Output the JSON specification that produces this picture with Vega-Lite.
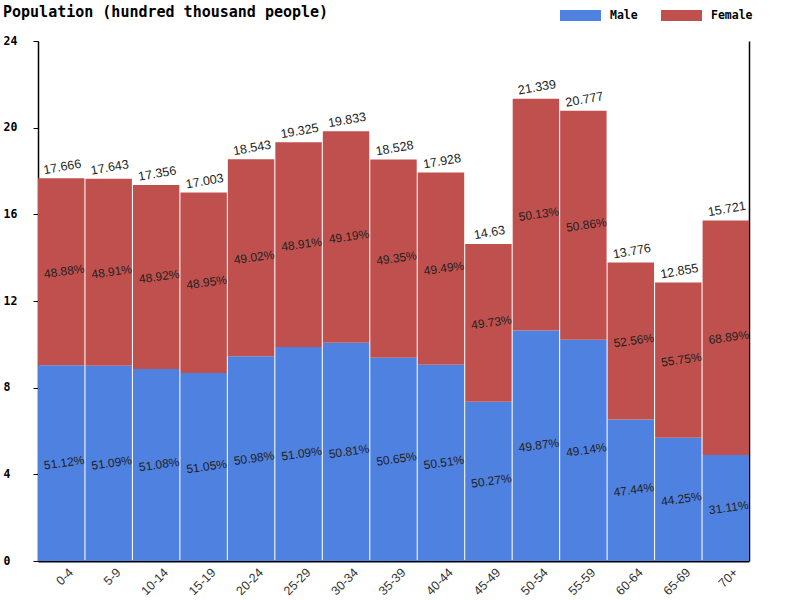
{
  "$schema": "https://vega.github.io/schema/vega-lite/v6.json",
  "autosize": "none",
  "width": 711,
  "height": 520,
  "padding": {"left": 38, "top": 41, "right": 51, "bottom": 39},
  "background": "white",
  "title": {"text": "Population (hundred thousand people)", "anchor": "start", "frame": "group", "font": "DejaVu Sans Mono", "fontWeight": "bold", "fontSize": 15, "color": "black", "dx": -35, "offset": -37, "baseline": "alphabetic"},
  "config": {"view": {"stroke": null}},
  "data": {"values": [
    {"age": "0-4", "sex": "Male", "value": 9.031, "pct": "51.12%", "total": 17.666},
    {"age": "0-4", "sex": "Female", "value": 8.635, "pct": "48.88%", "total": 17.666},
    {"age": "5-9", "sex": "Male", "value": 9.014, "pct": "51.09%", "total": 17.643},
    {"age": "5-9", "sex": "Female", "value": 8.629, "pct": "48.91%", "total": 17.643},
    {"age": "10-14", "sex": "Male", "value": 8.865, "pct": "51.08%", "total": 17.356},
    {"age": "10-14", "sex": "Female", "value": 8.491, "pct": "48.92%", "total": 17.356},
    {"age": "15-19", "sex": "Male", "value": 8.680, "pct": "51.05%", "total": 17.003},
    {"age": "15-19", "sex": "Female", "value": 8.323, "pct": "48.95%", "total": 17.003},
    {"age": "20-24", "sex": "Male", "value": 9.453, "pct": "50.98%", "total": 18.543},
    {"age": "20-24", "sex": "Female", "value": 9.090, "pct": "49.02%", "total": 18.543},
    {"age": "25-29", "sex": "Male", "value": 9.873, "pct": "51.09%", "total": 19.325},
    {"age": "25-29", "sex": "Female", "value": 9.452, "pct": "48.91%", "total": 19.325},
    {"age": "30-34", "sex": "Male", "value": 10.077, "pct": "50.81%", "total": 19.833},
    {"age": "30-34", "sex": "Female", "value": 9.756, "pct": "49.19%", "total": 19.833},
    {"age": "35-39", "sex": "Male", "value": 9.384, "pct": "50.65%", "total": 18.528},
    {"age": "35-39", "sex": "Female", "value": 9.144, "pct": "49.35%", "total": 18.528},
    {"age": "40-44", "sex": "Male", "value": 9.055, "pct": "50.51%", "total": 17.928},
    {"age": "40-44", "sex": "Female", "value": 8.873, "pct": "49.49%", "total": 17.928},
    {"age": "45-49", "sex": "Male", "value": 7.355, "pct": "50.27%", "total": 14.63},
    {"age": "45-49", "sex": "Female", "value": 7.275, "pct": "49.73%", "total": 14.63},
    {"age": "50-54", "sex": "Male", "value": 10.642, "pct": "49.87%", "total": 21.339},
    {"age": "50-54", "sex": "Female", "value": 10.697, "pct": "50.13%", "total": 21.339},
    {"age": "55-59", "sex": "Male", "value": 10.210, "pct": "49.14%", "total": 20.777},
    {"age": "55-59", "sex": "Female", "value": 10.567, "pct": "50.86%", "total": 20.777},
    {"age": "60-64", "sex": "Male", "value": 6.535, "pct": "47.44%", "total": 13.776},
    {"age": "60-64", "sex": "Female", "value": 7.241, "pct": "52.56%", "total": 13.776},
    {"age": "65-69", "sex": "Male", "value": 5.688, "pct": "44.25%", "total": 12.855},
    {"age": "65-69", "sex": "Female", "value": 7.167, "pct": "55.75%", "total": 12.855},
    {"age": "70+", "sex": "Male", "value": 4.891, "pct": "31.11%", "total": 15.721},
    {"age": "70+", "sex": "Female", "value": 10.830, "pct": "68.89%", "total": 15.721}
  ]},
  "transform": [
    {"stack": "value", "groupby": ["age"], "sort": [{"field": "sex", "order": "descending"}], "as": ["v0", "v1"]},
    {"calculate": "(datum.v0 + datum.v1) / 2", "as": "mid"}
  ],
  "encoding": {
    "x": {"field": "age", "type": "ordinal", "sort": null,
      "scale": {"paddingInner": 0.022, "paddingOuter": 0},
      "axis": {"title": null, "ticks": false, "labelAngle": -45, "labelAlign": "right", "labelBaseline": "middle", "labelFont": "Liberation Sans", "labelFontSize": 12.5, "labelColor": "#333", "labelPadding": 9, "labelOffset": 10, "domainColor": "black", "domainWidth": 2}}
  },
  "layer": [
    {
      "mark": {"type": "bar"},
      "encoding": {
        "y": {"field": "v1", "type": "quantitative", "scale": {"domain": [0, 24], "nice": false},
          "axis": {"title": null, "orient": "left", "values": [0, 4, 8, 12, 16, 20, 24], "grid": false, "tickSize": 5, "tickColor": "black", "domainColor": "black", "domainWidth": 1.5, "labelAlign": "left", "labelPadding": 30, "labelBaseline": "middle", "labelDy": -8, "labelFont": "DejaVu Sans Mono", "labelFontWeight": "bold", "labelFontSize": 11.5, "labelColor": "black"}},
        "y2": {"field": "v0"},
        "color": {"field": "sex", "type": "nominal",
          "scale": {"domain": ["Male", "Female"], "range": ["#4f81e0", "#c0504d"]},
          "legend": {"title": null, "orient": "none", "legendX": 522, "legendY": -46, "direction": "horizontal", "columns": 2, "columnPadding": 23, "symbolType": "M-1,-0.268H1V0.268H-1Z", "symbolSize": 1681, "symbolStrokeWidth": 0, "symbolOpacity": 1, "labelOffset": 9, "labelFont": "DejaVu Sans Mono", "labelFontWeight": "bold", "labelFontSize": 11.5, "labelColor": "black", "labelBaseline": "middle", "labelDy": -3}}
      }
    },
    {
      "mark": {"type": "text", "font": "Liberation Sans", "fontSize": 12, "color": "#222", "angle": -8, "dx": 3, "baseline": "middle", "align": "center"},
      "encoding": {
        "y": {"field": "mid", "type": "quantitative", "scale": {"domain": [0, 24], "nice": false},
          "axis": {"orient": "right", "title": null, "labels": false, "ticks": false, "grid": false, "domainColor": "black", "domainWidth": 1.5, "values": [0, 24]}},
        "text": {"field": "pct", "type": "nominal"}
      }
    },
    {
      "transform": [{"filter": "datum.sex === 'Female'"}],
      "mark": {"type": "text", "font": "Liberation Sans", "fontSize": 12.5, "color": "#222", "angle": -10, "dx": 3, "dy": -4, "baseline": "bottom", "align": "center"},
      "encoding": {
        "y": {"field": "total", "type": "quantitative", "scale": {"domain": [0, 24], "nice": false}, "axis": null},
        "text": {"field": "total", "type": "nominal"}
      }
    }
  ],
  "resolve": {"axis": {"y": "independent"}}
}
